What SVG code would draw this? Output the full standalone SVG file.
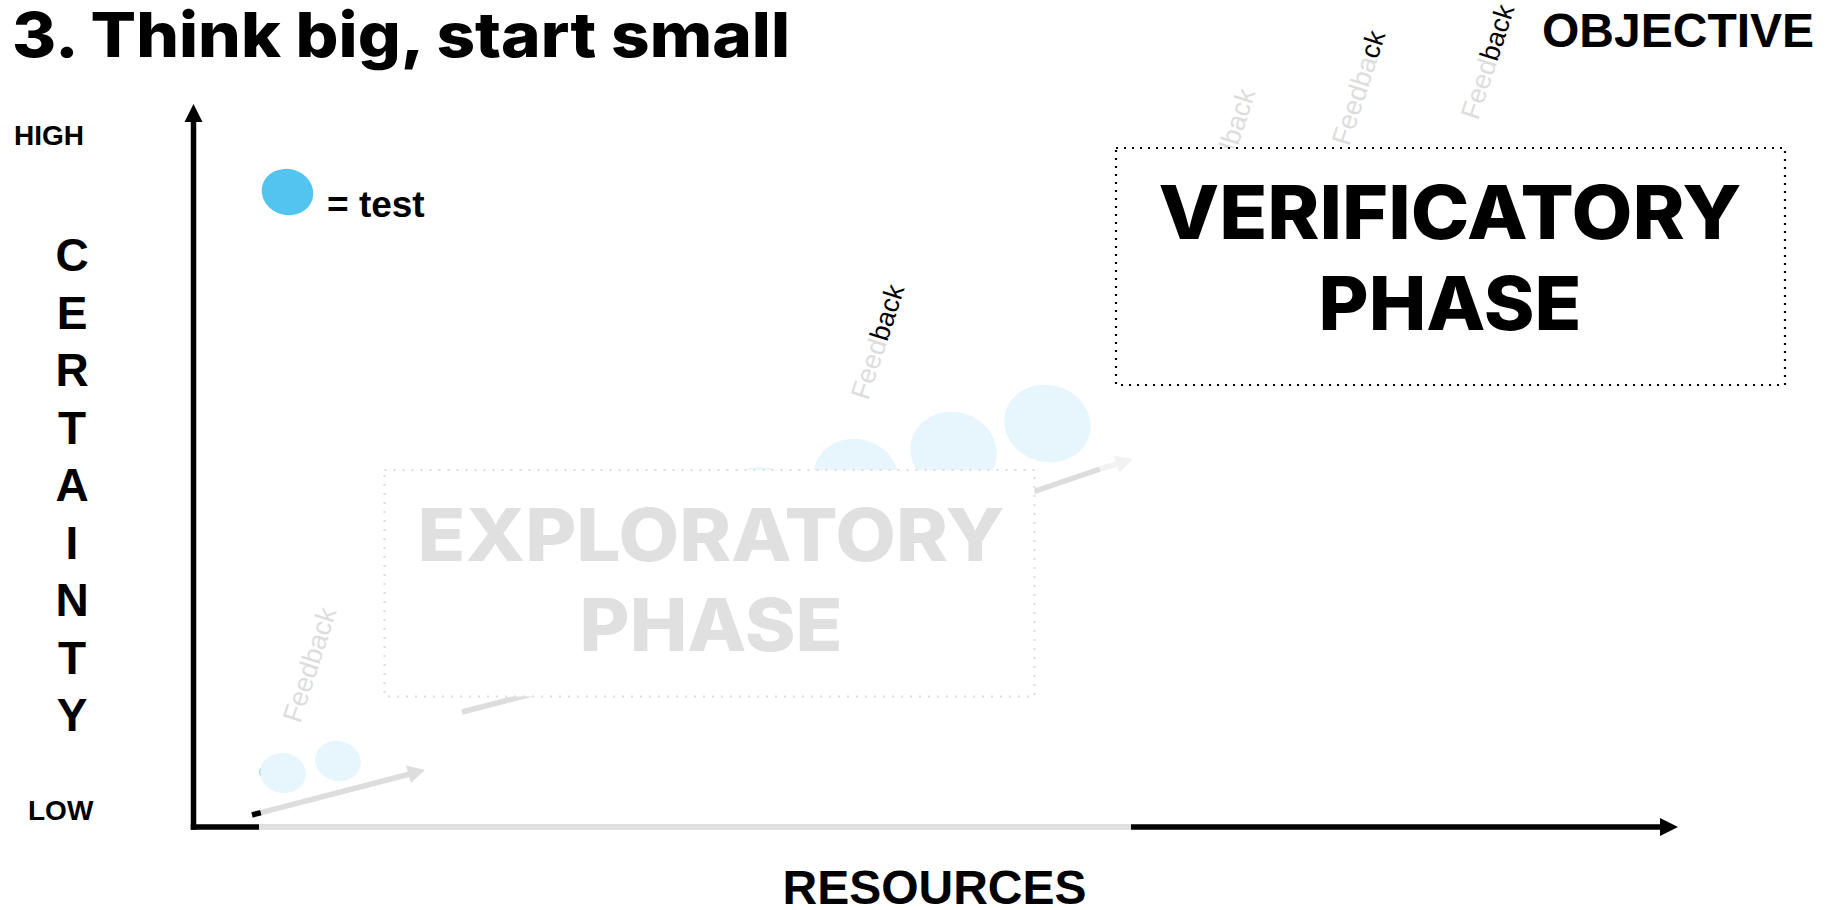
<svg xmlns="http://www.w3.org/2000/svg" width="1829" height="910" viewBox="0 0 1829 910">
<style>
.title{font-family:Inter,"Open Sans","Liberation Sans",sans-serif;font-weight:800;fill:#000}
.phase{font-family:Inter,"Open Sans","Liberation Sans",sans-serif;font-weight:800;text-anchor:middle}
.lbl{font-family:"Liberation Sans",Arial,sans-serif;font-weight:bold;fill:#000}
.fb{font-family:"Liberation Sans",Arial,sans-serif;font-size:27px;fill:#dddddd}
.blk{fill:#000}
.bub{fill:#E7F5FC}
.axis{stroke:#000;stroke-width:5.5;fill:none}
.garr{stroke:#dddddd;stroke-width:5.5;fill:none}
</style>
<rect width="1829" height="910" fill="#fff"/>

<g id="title"><text class="title" x="12" y="57" font-size="62" textLength="778" lengthAdjust="spacingAndGlyphs">3. Think big, start small</text></g>
<g id="objective"><text class="lbl" x="1542" y="46.5" font-size="48">OBJECTIVE</text></g>
<g id="high"><text class="lbl" x="14" y="145" font-size="28">HIGH</text></g>
<g id="low"><text class="lbl" x="28" y="820" font-size="28">LOW</text></g>
<g id="certainty" class="lbl" font-size="46" text-anchor="middle">
<text x="72" y="271">C</text><text x="72" y="328.5">E</text><text x="72" y="386">R</text><text x="72" y="443.5">T</text><text x="72" y="501">A</text><text x="72" y="558.5">I</text><text x="72" y="616">N</text><text x="72" y="673.5">T</text><text x="72" y="731">Y</text>
</g>
<g id="resources"><text class="lbl" x="934.5" y="903.5" font-size="48" text-anchor="middle">RESOURCES</text></g>

<g id="axes">
<line class="axis" x1="193.5" y1="829.7" x2="193.5" y2="120"/>
<polygon points="193.5,104 184.5,122 202.5,122" fill="#000"/>
<line class="axis" x1="190.8" y1="827" x2="1662" y2="827"/>
<polygon points="1678,827 1660,818 1660,836" fill="#000"/>
<line x1="259" y1="827" x2="1131" y2="827" stroke="#e0e0e0" stroke-width="6"/>
</g>

<g id="legend">
<ellipse cx="287.5" cy="192" rx="26" ry="23" transform="rotate(15 287.5 192)" fill="#53C3F0"/>
<text class="lbl" x="327" y="217" font-size="37">= test</text>
</g>

<g id="bubbles">
<ellipse cx="261" cy="772" rx="1.6" ry="4" fill="#53C3F0"/>
<ellipse class="bub" cx="283" cy="773" rx="23" ry="20" transform="rotate(10 283 773)"/>
<ellipse class="bub" cx="338" cy="761" rx="23" ry="20" transform="rotate(15 338 761)"/>
<ellipse class="bub" cx="760" cy="506" rx="43" ry="39"/>
<ellipse class="bub" cx="856" cy="478" rx="43" ry="39" transform="rotate(15 856 478)"/>
<ellipse class="bub" cx="953.5" cy="451" rx="43.5" ry="39" transform="rotate(15 953.5 451)"/>
<ellipse class="bub" cx="1047.5" cy="423.5" rx="43.5" ry="38.5" transform="rotate(15 1047.5 423.5)"/>
</g>

<g id="connectors">
<line x1="252" y1="815" x2="261" y2="812.6" stroke="#000" stroke-width="5.5"/>
<line class="garr" x1="261" y1="812.6" x2="410" y2="774"/>
<polygon points="425,770 410.8,783 406.2,765.6" fill="#dddddd"/>
<line class="garr" x1="462" y1="712" x2="620" y2="671"/>
<line class="garr" x1="1000" y1="503" x2="1100" y2="469"/>
<line x1="1100" y1="469" x2="1117" y2="464" stroke="#f2f2f2" stroke-width="5.5"/>
<polygon points="1133,459 1119.6,472.8 1114,455.7" fill="#f2f2f2"/>
</g>

<g id="feedback1"><text class="fb" transform="translate(300 724) rotate(-72)">Feedback</text></g>
<g id="feedback2"><text class="fb" transform="translate(868 401) rotate(-72)">Feed<tspan class="blk">back</tspan></text></g>

<g id="exploratory">
<rect x="384.5" y="470" width="650" height="226.5" fill="#fff" stroke="#dddddd" stroke-width="2" stroke-dasharray="2 7"/>
<text class="phase" fill="#e0e0e0" x="711" y="560.5" font-size="73" textLength="587" lengthAdjust="spacingAndGlyphs">EXPLORATORY</text>
<text class="phase" fill="#e0e0e0" x="711" y="650.5" font-size="73" textLength="263" lengthAdjust="spacingAndGlyphs">PHASE</text>
</g>

<g id="feedback3"><text class="fb" transform="translate(1219 205) rotate(-72)">Feedback</text></g>
<g id="feedback4"><text class="fb" transform="translate(1349 147) rotate(-72)">Feedba<tspan class="blk">ck</tspan></text></g>
<g id="feedback5"><text class="fb" transform="translate(1478 121) rotate(-72)">Feed<tspan class="blk">back</tspan></text></g>

<g id="verificatory">
<rect x="1116" y="148" width="669" height="237" fill="#fff" stroke="#000" stroke-width="2.2" stroke-dasharray="2 6"/>
<text class="phase" fill="#000" x="1450" y="238.5" font-size="74" textLength="583" lengthAdjust="spacingAndGlyphs">VERIFICATORY</text>
<text class="phase" fill="#000" x="1450" y="329.5" font-size="74" textLength="263" lengthAdjust="spacingAndGlyphs">PHASE</text>
</g>
</svg>
